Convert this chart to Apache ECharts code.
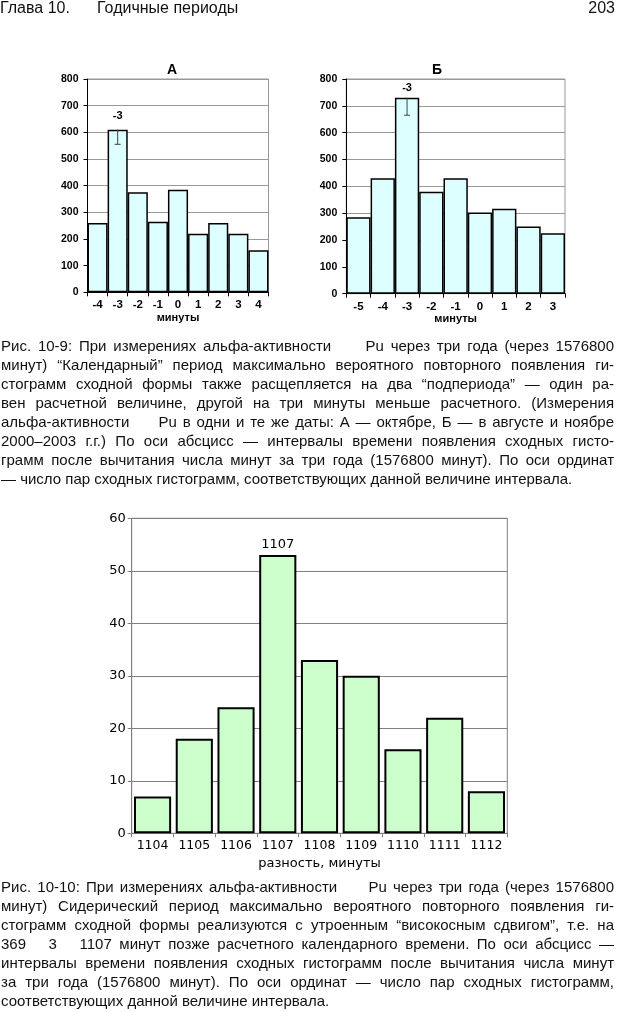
<!DOCTYPE html>
<html><head><meta charset="utf-8">
<script src="https://cdn.jsdelivr.net/npm/echarts@6/dist/echarts.min.js"></script>
<style>html,body{margin:0;padding:0;background:#fff}#c{width:617px;height:1012px}</style>
</head><body><div id="c"></div>
<script>
// ---- data ----
const catsA = ['-4','-3','-2','-1','0','1','2','3','4'];
const valsA = [260,610,375,265,385,220,260,220,158];
const peakA = '-3';
const errA = [['-3',610,555]];

const catsB = ['-5','-4','-3','-2','-1','0','1','2','3'];
const valsB = [285,430,730,380,430,303,317,250,225];
const peakB = '-3';
const errB = [['-3',730,665]];

const catsC = ['1104','1105','1106','1107','1108','1109','1110','1111','1112'];
const valsC = [7,18,24,53,33,30,16,22,8];
const peakC = '1107';

const headerLeft = 'Глава 10.';
const headerMid = 'Годичные периоды';
const headerPage = '203';

const caption1 = [
 'Рис. 10-9: При измерениях альфа-активности     Pu через три года (через 1576800',
 'минут) “Календарный” период максимально вероятного повторного появления ги-',
 'стограмм сходной формы также расщепляется на два “подпериода” — один ра-',
 'вен расчетной величине, другой на три минуты меньше расчетного. (Измерения',
 'альфа-активности     Pu в одни и те же даты: А — октябре, Б — в августе и ноябре',
 '2000–2003 г.г.) По оси абсцисс — интервалы времени появления сходных гисто-',
 'грамм после вычитания числа минут за три года (1576800 минут). По оси ординат',
 '— число пар сходных гистограмм, соответствующих данной величине интервала.'
];
const caption2 = [
 'Рис. 10-10: При измерениях альфа-активности     Pu через три года (через 1576800',
 'минут) Сидерический период максимально вероятного повторного появления ги-',
 'стограмм сходной формы реализуются с утроенным “високосным сдвигом”, т.е. на',
 '369   3   1107 минут позже расчетного календарного времени. По оси абсцисс —',
 'интервалы времени появления сходных гистограмм после вычитания числа минут',
 'за три года (1576800 минут). По оси ординат — число пар сходных гистограмм,',
 'соответствующих данной величине интервала.'
];

// ---- text layout helpers ----
const CAP_FONT_FAMILY = 'Liberation Sans';
const CAP_FONT_SIZE = 15;
const mctx = document.createElement('canvas').getContext('2d');
function textLine(str, y, justify, x0, x1, size, family, out) {
  mctx.font = size + 'px "' + family + '"';
  const words = str.split(' ');
  const widths = words.map(w => mctx.measureText(w).width);
  const sp = mctx.measureText(' ').width;
  const gaps = words.length - 1;
  const total = widths.reduce((a, b) => a + b, 0);
  let gap = sp;
  if (justify && gaps > 0) gap = (x1 - x0 - total) / gaps;
  let x = x0;
  words.forEach((w, i) => {
    if (w) out.push({type: 'text', x: x, y: y, silent: true,
      style: {text: w, fontSize: size, fontFamily: family, fill: '#111',
              textAlign: 'left', textVerticalAlign: 'middle'}});
    x += widths[i] + gap;
  });
}
const graphics = [];
function paragraph(lines, y0, dy) {
  lines.forEach((l, i) => textLine(l, y0 + i * dy, i < lines.length - 1, 1, 614, CAP_FONT_SIZE, CAP_FONT_FAMILY, graphics));
}
paragraph(caption1, 347, 19);
paragraph(caption2, 888, 19);
graphics.push({type:'text', x:0, y:9, style:{text:headerLeft, fontSize:16, fontFamily:CAP_FONT_FAMILY, fill:'#111', textAlign:'left', textVerticalAlign:'middle'}});
graphics.push({type:'text', x:97, y:9, style:{text:headerMid, fontSize:16, fontFamily:CAP_FONT_FAMILY, fill:'#111', textAlign:'left', textVerticalAlign:'middle'}});
graphics.push({type:'text', x:615, y:9, style:{text:headerPage, fontSize:16, fontFamily:CAP_FONT_FAMILY, fill:'#111', textAlign:'right', textVerticalAlign:'middle'}});
graphics.push({type:'text', x:172, y:70, style:{text:'А', fontSize:14, fontWeight:'bold', fontFamily:'Liberation Sans', fill:'#000', textAlign:'center', textVerticalAlign:'middle'}});
graphics.push({type:'text', x:437, y:70, style:{text:'Б', fontSize:14, fontWeight:'bold', fontFamily:'Liberation Sans', fill:'#000', textAlign:'center', textVerticalAlign:'middle'}});

// ---- chart helpers ----
function barData(cats, vals, peak, dist) {
  return vals.map((v, i) => cats[i] === peak
    ? {value: v, label: {show: true, position: 'top', distance: dist, formatter: cats[i]}}
    : v);
}
function errSeries(idx, data) {
  return {type: 'custom', xAxisIndex: idx, yAxisIndex: idx, data: data, z: 10, silent: true,
    encode: {x: 0, y: [1, 2]},
    renderItem: function (params, api) {
      const t = api.coord([api.value(0), api.value(1)]);
      const b = api.coord([api.value(0), api.value(2)]);
      return {type: 'group', children: [
        {type: 'line', shape: {x1: t[0], y1: t[1], x2: b[0], y2: b[1]}, style: {stroke: '#444', lineWidth: 1}},
        {type: 'line', shape: {x1: b[0] - 3, y1: b[1], x2: b[0] + 3, y2: b[1]}, style: {stroke: '#444', lineWidth: 1}}
      ]};
    }};
}
const smallLabel = {fontFamily: 'Liberation Sans', fontWeight: 'bold', fontSize: 10.5, color: '#000'};
function smallX(idx, cats) {
  return {type: 'category', gridIndex: idx, data: cats,
    axisLine: {lineStyle: {color: '#000', width: 1}},
    axisTick: {show: true, length: 4, lineStyle: {color: '#000'}},
    axisLabel: Object.assign({margin: 7, interval: 0}, smallLabel, {fontSize: 11.5}),
    name: 'минуты', nameLocation: 'middle', nameGap: 15,
    nameTextStyle: {fontFamily: 'Liberation Sans', fontWeight: 'bold', fontSize: 11, color: '#000'}};
}
function smallY(idx) {
  return {type: 'value', gridIndex: idx, min: 0, max: 800, interval: 100,
    axisLine: {show: true, lineStyle: {color: '#000', width: 1}},
    axisTick: {show: true, length: 4, lineStyle: {color: '#000'}},
    axisLabel: Object.assign({margin: 9}, smallLabel),
    splitLine: {lineStyle: {color: '#999', width: 1}}};
}

const chart = echarts.init(document.getElementById('c'), null, {renderer: 'canvas'});
chart.setOption({
  animation: false,
  backgroundColor: '#fff',
  graphic: graphics,
  grid: [
    {left: 87.5, top: 79, width: 181, height: 213.3, show: true, borderColor: '#999', borderWidth: 1, backgroundColor: '#fff'},
    {left: 346.3, top: 79, width: 218.7, height: 214.7, show: true, borderColor: '#999', borderWidth: 1, backgroundColor: '#fff'},
    {left: 131.7, top: 518.3, width: 375.6, height: 315, show: true, borderColor: '#808080', borderWidth: 1, backgroundColor: '#fff'}
  ],
  xAxis: [
    smallX(0, catsA),
    smallX(1, catsB),
    {type: 'category', gridIndex: 2, data: catsC,
      axisLine: {lineStyle: {color: '#808080', width: 1}},
      axisTick: {show: true, length: 4, lineStyle: {color: '#808080'}},
      axisLabel: {margin: 6, interval: 0, hideOverlap: false, fontFamily: 'DejaVu Sans', fontSize: 12.5, color: '#000'},
      name: 'разность, минуты', nameLocation: 'middle', nameGap: 24,
      nameTextStyle: {fontFamily: 'DejaVu Sans', fontSize: 13, color: '#000'}}
  ],
  yAxis: [
    smallY(0),
    smallY(1),
    {type: 'value', gridIndex: 2, min: 0, max: 60, interval: 10,
      axisLine: {show: true, lineStyle: {color: '#808080', width: 1}},
      axisTick: {show: true, length: 4, lineStyle: {color: '#808080'}},
      axisLabel: {margin: 6, fontFamily: 'DejaVu Sans', fontSize: 13, color: '#000'},
      splitLine: {lineStyle: {color: '#808080', width: 1}}}
  ],
  series: [
    {type: 'bar', xAxisIndex: 0, yAxisIndex: 0, data: barData(catsA, valsA, peakA, 8), barCategoryGap: '0%',
      itemStyle: {color: '#ddffff', borderColor: '#000', borderWidth: 1.5},
      label: {fontFamily: 'Liberation Sans', fontWeight: 'bold', fontSize: 11, color: '#000'}},
    errSeries(0, errA),
    {type: 'bar', xAxisIndex: 1, yAxisIndex: 1, data: barData(catsB, valsB, peakB, 4), barCategoryGap: '0%',
      itemStyle: {color: '#ddffff', borderColor: '#000', borderWidth: 1.5},
      label: {fontFamily: 'Liberation Sans', fontWeight: 'bold', fontSize: 11, color: '#000'}},
    errSeries(1, errB),
    {type: 'bar', xAxisIndex: 2, yAxisIndex: 2, data: barData(catsC, valsC, peakC, 4), barCategoryGap: '11%',
      itemStyle: {color: '#ccffcc', borderColor: '#000', borderWidth: 2},
      label: {fontFamily: 'DejaVu Sans', fontSize: 13, color: '#000'}}
  ]
});
</script></body></html>
